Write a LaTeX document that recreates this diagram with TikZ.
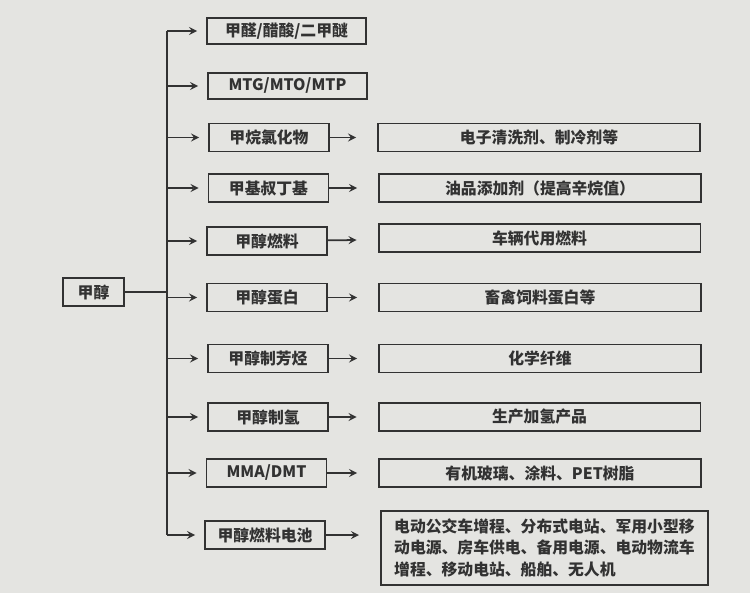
\documentclass[tikz,border=0pt]{standalone}
\usepackage{fontspec}
\setmainfont{Noto Sans CJK SC}
\usepackage{xcolor}
\usepackage{tikz}
\usetikzlibrary{shapes,positioning}
\definecolor{paper}{RGB}{228,228,225}
\definecolor{ink}{RGB}{50,50,50}
\tikzset{prod/.style={rectangle,draw=ink,line width=1.1pt,minimum width=2.4cm,minimum height=0.56cm,inner sep=0pt,font=\fontsize{9}{12}\selectfont\bfseries,text=ink},
  prodwide/.style={prod,minimum width=3.18cm,minimum height=0.52cm},
  app/.style={prod,minimum width=6.44cm},
  apptall/.style={prod,minimum width=6.54cm,minimum height=1.48cm,align=left,inner sep=0.08cm,anchor=north west}}

\begin{document}
\begin{tikzpicture}[>=stealth,x=0.02cm,y=-0.02cm,line width=1pt,draw=ink]
    \fill[paper] (0,0) rectangle (750,593);
    \useasboundingbox (0,0) rectangle (750,593);

    \node[prod,minimum width=1.22cm] (root) at (93.5,292) {甲醇};

    \node[prodwide] (m1) at (286.5,31) {甲醛/醋酸/二甲醚};
    \node[prodwide] (m2) at (287.5,86) {MTG/MTO/MTP};
    \node[prod] (m3) at (269,137.5) {甲烷氯化物};
    \node[prod] (m4) at (268.5,188) {甲基叔丁基};
    \node[prod] (m5) at (267,241) {甲醇燃料};
    \node[prod] (m6) at (267,297.5) {甲醇蛋白};
    \node[prod] (m7) at (268,358.5) {甲醇制芳烃};
    \node[prod] (m8) at (268,417) {甲醇制氢};
    \node[prod] (m9) at (266.5,473) {MMA/DMT};
    \node[prod] (m10) at (265,535) {甲醇燃料电池};

    \node[app] (r3) at (539,137.5) {电子清洗剂、制冷剂等};
    \node[app] (r4) at (540,188) {油品添加剂（提高辛烷值）};
    \node[app] (r5) at (539.5,238) {车辆代用燃料};
    \node[app] (r6) at (540,297.5) {畜禽饲料蛋白等};
    \node[app] (r7) at (540,358.5) {化学纤维};
    \node[app] (r8) at (539.5,417) {生产加氢产品};
    \node[app] (r9) at (540,473) {有机玻璃、涂料、PET树脂};
    \node[apptall] (r10) at (380,510) {电动公交车增程、分布式电站、军用小型移\\动电源、房车供电、备用电源、电动物流车\\增程、移动电站、船舶、无人机};

    \coordinate (t1) at (167,31);
    \coordinate (t2) at (167,535);

    \draw [] (t1) to [] (t2);
    \draw [] (root) to [] (root -| t1);
    \draw [->,shorten >=0.18cm] (m1 -| t1) to [] (m1);
    \draw [->,shorten >=0.18cm] (m2 -| t1) to [] (m2);
    \draw [->,shorten >=0.18cm] (m3 -| t1) to [] (m3);
    \draw [->,shorten >=0.18cm] (m4 -| t1) to [] (m4);
    \draw [->,shorten >=0.18cm] (m5 -| t1) to [] (m5);
    \draw [->,shorten >=0.18cm] (m6 -| t1) to [] (m6);
    \draw [->,shorten >=0.18cm] (m7 -| t1) to [] (m7);
    \draw [->,shorten >=0.18cm] (m8 -| t1) to [] (m8);
    \draw [->,shorten >=0.18cm] (m9 -| t1) to [] (m9);
    \draw [->,shorten >=0.18cm] (m10 -| t1) to [] (m10);

    \draw [->,shorten >=0.42cm] (m3) to [] (r3);
    \draw [->,shorten >=0.42cm] (m4) to [] (r4);
    \draw [->,shorten >=0.42cm] (m5) to [] (r5);
    \draw [->,shorten >=0.42cm] (m6) to [] (r6);
    \draw [->,shorten >=0.42cm] (m7) to [] (r7);
    \draw [->,shorten >=0.42cm] (m8) to [] (r8);
    \draw [->,shorten >=0.42cm] (m9) to [] (r9);
    \draw [->,shorten >=0.42cm] (m10) to [] (m10 -| r10.west);
\end{tikzpicture}
\end{document}
